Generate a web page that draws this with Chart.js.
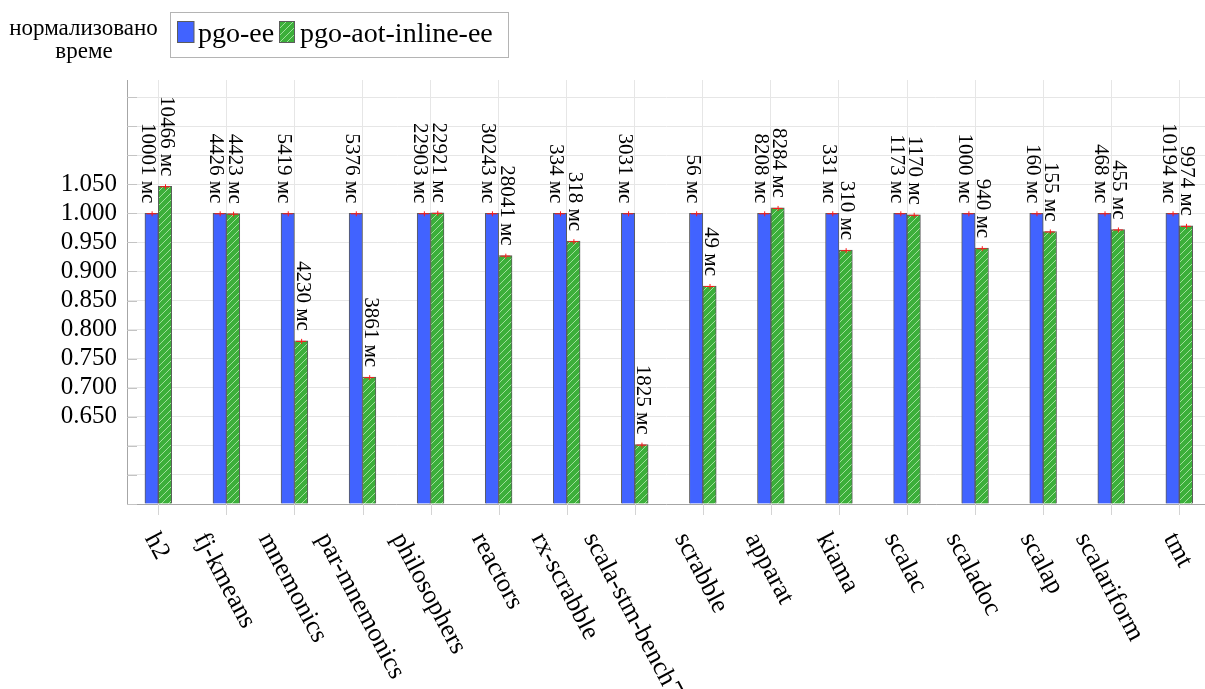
<!DOCTYPE html>
<html>
<head>
<meta charset="utf-8">
<script src="https://cdn.jsdelivr.net/npm/chart.js@4.4.1/dist/chart.umd.min.js"></script>
<style>
  html, body { margin: 0; padding: 0; background: #ffffff; }
  #wrap { position: relative; width: 1205px; height: 689px; }
</style>
</head>
<body>
<div id="wrap"><canvas id="c" width="1205" height="689"></canvas></div>
<script>
// Benchmarks (x categories)
const benchmarks = ['h2', 'fj-kmeans', 'mnemonics', 'par-mnemonics', 'philosophers', 'reactors',
  'rx-scrabble', 'scala-stm-bench7', 'scrabble', 'apparat', 'kiama', 'scalac', 'scaladoc',
  'scalap', 'scalariform', 'tmt'];

// Mean running times in milliseconds
const pgoEeMs = [10001, 4426, 5419, 5376, 22903, 30243, 334, 3031, 56, 8208, 331, 1173, 1000, 160, 468, 10194];
const pgoAotInlineEeMs = [10466, 4423, 4230, 3861, 22921, 28041, 318, 1825, 49, 8284, 310, 1170, 940, 155, 455, 9974];

// Series names
const seriesNames = ['pgo-ee', 'pgo-aot-inline-ee'];

// Y axis: grid every 0.05, labels only on part of the range
const yGridValues = [0.5, 0.55, 0.6, 0.65, 0.7, 0.75, 0.8, 0.85, 0.9, 0.95, 1.0, 1.05, 1.1, 1.15, 1.2];
const yTickLabels = ['', '', '', '0.650', '0.700', '0.750', '0.800', '0.850', '0.900', '0.950', '1.000', '1.050', '', '', ''];

const yTitleLines = ['нормализовано', 'време'];
const unit = 'мс';

// Times normalised to the pgo-ee run of each benchmark
const pgoEeNorm = pgoEeMs.map((t, i) => t / pgoEeMs[i]);
const pgoAotInlineEeNorm = pgoAotInlineEeMs.map((t, i) => t / pgoEeMs[i]);

const BLUE = '#4163ff';
const GREEN = '#3caf3a';
const EDGE = '#5c5c5c';
const FONT = '"Liberation Serif", "DejaVu Serif", serif';

const canvas = document.getElementById('c');
const ctx0 = canvas.getContext('2d');

function hatchPattern(base) {
  const s = 7;
  const t = document.createElement('canvas');
  t.width = s; t.height = s;
  const g = t.getContext('2d');
  g.fillStyle = base;
  g.fillRect(0, 0, s, s);
  g.strokeStyle = 'rgba(225,255,220,0.6)';
  g.lineWidth = 1;
  g.beginPath();
  g.moveTo(-1, s + 1); g.lineTo(s + 1, -1);
  g.moveTo(-1 - s, s + 1 - s); g.lineTo(s + 1 - s, -1 - s);
  g.moveTo(-1 + s, s + 1 + s); g.lineTo(s + 1 + s, -1 + s);
  g.stroke();
  return ctx0.createPattern(t, 'repeat');
}
const greenHatch = hatchPattern(GREEN);

const toPoints = arr => arr.map((v, i) => ({ x: i, y: v }));

// Value labels, error caps, axis decorations, legend and y title
const decorations = {
  id: 'decorations',
  afterDatasetsDraw(chart) {
    const ctx = chart.ctx;
    const msSeries = [pgoEeMs, pgoAotInlineEeMs];
    chart.data.datasets.forEach((ds, di) => {
      const meta = chart.getDatasetMeta(di);
      meta.data.forEach((el, i) => {
        // small red error cap on top of each bar
        ctx.save();
        ctx.strokeStyle = '#ff1a1a';
        ctx.lineWidth = 1;
        ctx.beginPath();
        ctx.moveTo(el.x - 5, el.y + 0.5);
        ctx.lineTo(el.x + 5, el.y + 0.5);
        ctx.moveTo(el.x + 0.5, el.y - 2);
        ctx.lineTo(el.x + 0.5, el.y + 3);
        ctx.stroke();
        ctx.restore();

        // rotated time label above the bar
        const lx = el.x + (di === 0 ? -2.5 : 2.5);
        ctx.save();
        ctx.translate(lx, el.y - 10);
        ctx.rotate(Math.PI / 2);
        ctx.font = '21px ' + FONT;
        ctx.fillStyle = '#000';
        ctx.textAlign = 'right';
        ctx.textBaseline = 'alphabetic';
        ctx.fillText(msSeries[di][i] + ' ' + unit, 0, 7);
        ctx.restore();
      });
    });
  },
  afterDraw(chart) {
    const ctx = chart.ctx;
    const area = chart.chartArea;
    const xs = chart.scales.x;
    const ys = chart.scales.y;

    // inner tick marks on the y axis
    ctx.save();
    ctx.strokeStyle = '#c4c4c4';
    ctx.lineWidth = 1;
    yGridValues.forEach(v => {
      const y = Math.round(ys.getPixelForValue(v)) + 0.5;
      ctx.beginPath();
      ctx.moveTo(area.left, y);
      ctx.lineTo(area.left + 10, y);
      ctx.stroke();
    });
    // tick marks below the x axis
    ctx.strokeStyle = '#d4d4d4';
    benchmarks.forEach((b, i) => {
      const x = Math.round(xs.getPixelForValue(i)) + 0.5;
      ctx.beginPath();
      ctx.moveTo(x, area.bottom);
      ctx.lineTo(x, area.bottom + 11);
      ctx.stroke();
    });
    ctx.restore();

    // rotated category labels
    ctx.save();
    ctx.font = '26px ' + FONT;
    ctx.fillStyle = '#000';
    ctx.textAlign = 'left';
    ctx.textBaseline = 'alphabetic';
    benchmarks.forEach((b, i) => {
      const x = xs.getPixelForValue(i);
      const w = ctx.measureText(b).width;
      ctx.save();
      ctx.translate(x - 7.5 - 0.24 * w, area.bottom + 34);
      ctx.rotate(62 * Math.PI / 180);
      ctx.fillText(b, 0, 0);
      ctx.restore();
    });
    ctx.restore();

    // y axis title
    ctx.save();
    ctx.font = '23px ' + FONT;
    ctx.fillStyle = '#000';
    ctx.textAlign = 'center';
    ctx.fillText(yTitleLines[0], 83.5, 34.5);
    ctx.fillText(yTitleLines[1], 84, 57.5);
    ctx.restore();

    // legend
    ctx.save();
    ctx.strokeStyle = '#b4b4b4';
    ctx.lineWidth = 1;
    ctx.strokeRect(170.5, 12.5, 338, 45);
    ctx.fillStyle = BLUE;
    ctx.fillRect(177.5, 21.5, 16.5, 21);
    ctx.strokeStyle = EDGE;
    ctx.strokeRect(177.5, 21.5, 16.5, 21);
    ctx.fillStyle = greenHatch;
    ctx.fillRect(279.5, 21.5, 15, 21);
    ctx.strokeRect(279.5, 21.5, 15, 21);
    ctx.font = '28px ' + FONT;
    ctx.fillStyle = '#000';
    ctx.textAlign = 'left';
    ctx.fillText(seriesNames[0], 198, 42);
    ctx.fillText(seriesNames[1], 300, 42);
    ctx.restore();
  }
};

new Chart(canvas, {
  type: 'bar',
  data: {
    datasets: [
      {
        label: seriesNames[0],
        data: toPoints(pgoEeNorm),
        backgroundColor: BLUE,
        borderColor: EDGE,
        borderWidth: 1,
        borderSkipped: 'start',
        base: 0.5
      },
      {
        label: seriesNames[1],
        data: toPoints(pgoAotInlineEeNorm),
        backgroundColor: greenHatch,
        borderColor: EDGE,
        borderWidth: 1,
        borderSkipped: 'start',
        base: 0.5
      }
    ]
  },
  options: {
    responsive: false,
    animation: false,
    devicePixelRatio: 1,
    barThickness: 13.4,
    layout: { padding: { left: 0, top: 80, right: 0, bottom: 185 } },
    plugins: { legend: { display: false }, tooltip: { enabled: false } },
    scales: {
      x: {
        type: 'linear',
        offset: false,
        min: -0.46,
        max: 15.378,
        afterBuildTicks: s => { s.ticks = benchmarks.map((b, i) => ({ value: i })); },
        afterFit: s => { s.height = 0; },
        ticks: { display: false },
        grid: { color: '#e6e6e6', drawTicks: false, offset: false },
        border: { color: '#a6a6a6', width: 1 }
      },
      y: {
        min: 0.5,
        max: 1.2293,
        afterBuildTicks: s => { s.ticks = yGridValues.map(v => ({ value: v })); },
        afterFit: s => { s.width = 127; },
        ticks: {
          padding: 10,
          color: '#000',
          autoSkip: false,
          font: { family: FONT, size: 25 },
          callback: (v, i) => yTickLabels[i]
        },
        grid: { color: '#e6e6e6', drawTicks: false },
        border: { color: '#a6a6a6', width: 1 }
      }
    }
  },
  plugins: [decorations]
});
</script>
</body>
</html>
